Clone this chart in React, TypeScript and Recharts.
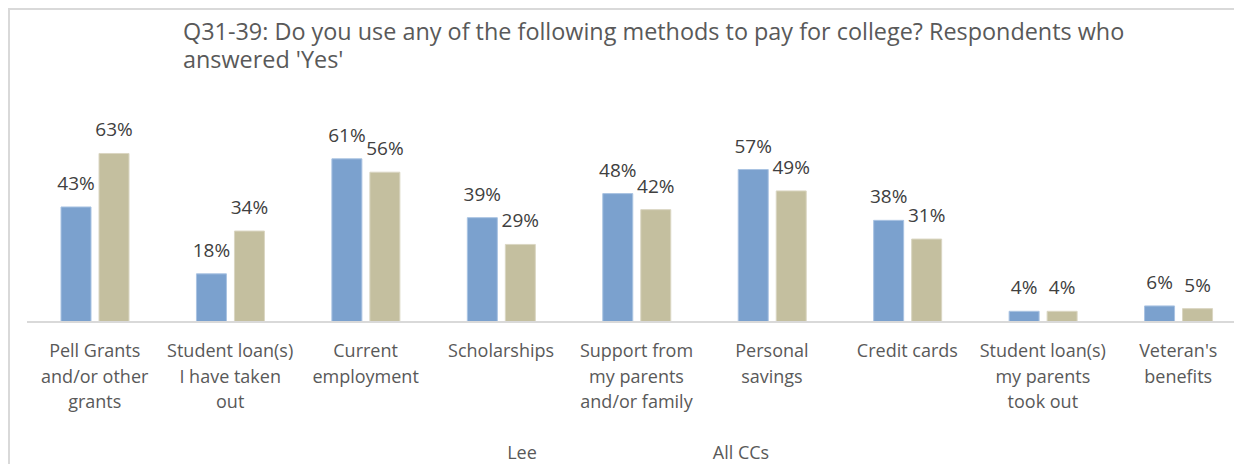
import React from 'react';
import { BarChart, Bar, XAxis, YAxis, LabelList, Legend } from 'recharts';

const categories: string[] = [
  'Pell Grants\nand/or other\ngrants',
  'Student loan(s)\nI have taken\nout',
  'Current\nemployment',
  'Scholarships',
  'Support from\nmy parents\nand/or family',
  'Personal\nsavings',
  'Credit cards',
  'Student loan(s)\nmy parents\ntook out',
  "Veteran's\nbenefits",
];
const leeValues: number[] = [0.43, 0.18, 0.61, 0.39, 0.48, 0.57, 0.38, 0.04, 0.06];
const allCCsValues: number[] = [0.63, 0.34, 0.56, 0.29, 0.42, 0.49, 0.31, 0.04, 0.05];
const seriesNames: string[] = ['Lee', 'All CCs'];
const titleLines: string[] = [
  'Q31-39: Do you use any of the following methods to pay for college? Respondents who',
  "answered 'Yes'",
];

const data = categories.map((c, i) => ({ name: c, lee: leeValues[i], all: allCCsValues[i] }));

const FONT = '"Open Sans", "Noto Sans", sans-serif';
const LEE_COLOR = '#7BA1CE';
const ALL_COLOR = '#C4BF9F';

const pct = (v: number) => `${Math.round(v * 100)}%`;

const Tick = (props: any) => {
  const { x, y, payload } = props;
  const lines = String(payload.value).split('\n');
  return (
    <text x={x} y={y} textAnchor="middle" fill="#595959" fontSize={18} fontFamily={FONT}>
      {lines.map((l, i) => (
        <tspan key={i} x={x} y={y + 27 + i * 25.5}>
          {l}
        </tspan>
      ))}
    </text>
  );
};

const LegendContent = () => (
  <div style={{ position: 'relative', height: 0 }}>
    {seriesNames.map((n, i) => (
      <span
        key={n}
        style={{
          position: 'absolute',
          left: i === 0 ? 512 : 731,
          top: 442,
          transform: 'translate(-50%, -50%)',
          whiteSpace: 'nowrap',
          fontFamily: FONT,
          fontSize: 18,
          lineHeight: 1,
          color: '#595959',
        }}
      >
        {n}
      </span>
    ))}
  </div>
);

export default function App() {
  return (
    <div style={{ position: 'fixed', left: 0, top: 0, width: 1234, height: 464, overflow: 'hidden', background: '#fff' }}>
      <div
        style={{
          position: 'absolute',
          left: 8,
          top: 8,
          width: 1300,
          height: 500,
          borderLeft: '2px solid #d9d9d9',
          borderTop: '2px solid #d9d9d9',
          boxSizing: 'border-box',
        }}
      >
        <div
          style={{
            position: 'absolute',
            left: 173,
            top: 8,
            fontFamily: FONT,
            fontSize: 23.4,
            lineHeight: '27.5px',
            color: '#595959',
            whiteSpace: 'pre',
          }}
        >
          {titleLines.join('\n')}
        </div>
        <div style={{ position: 'absolute', left: 0, top: 0 }}>
          <BarChart
            width={1260}
            height={454}
            data={data}
            margin={{ top: 98, right: 24, left: 17, bottom: 42 }}
            barSize={30}
            barGap={8}
          >
            <XAxis
              dataKey="name"
              interval={0}
              height={100}
              tickLine={false}
              axisLine={{ stroke: '#d9d9d9', strokeWidth: 2 }}
              tick={<Tick />}
            />
            <YAxis hide domain={[0, 0.8]} />
            <Legend
              verticalAlign="bottom"
              content={<LegendContent />}
              wrapperStyle={{ left: 0, top: 0, bottom: 'auto', width: 1260, height: 0 }}
            />
            <Bar dataKey="lee" name={seriesNames[0]} fill={LEE_COLOR} stroke="#A9C3E2" strokeWidth={1} isAnimationActive={false}>
              <LabelList dataKey="lee" position="top" offset={17} formatter={pct} fill="#404040" fontSize={19} fontFamily={FONT} />
            </Bar>
            <Bar dataKey="all" name={seriesNames[1]} fill={ALL_COLOR} stroke="#DAD6C2" strokeWidth={1} isAnimationActive={false}>
              <LabelList dataKey="all" position="top" offset={17} formatter={pct} fill="#404040" fontSize={19} fontFamily={FONT} />
            </Bar>
          </BarChart>
        </div>
      </div>
    </div>
  );
}
